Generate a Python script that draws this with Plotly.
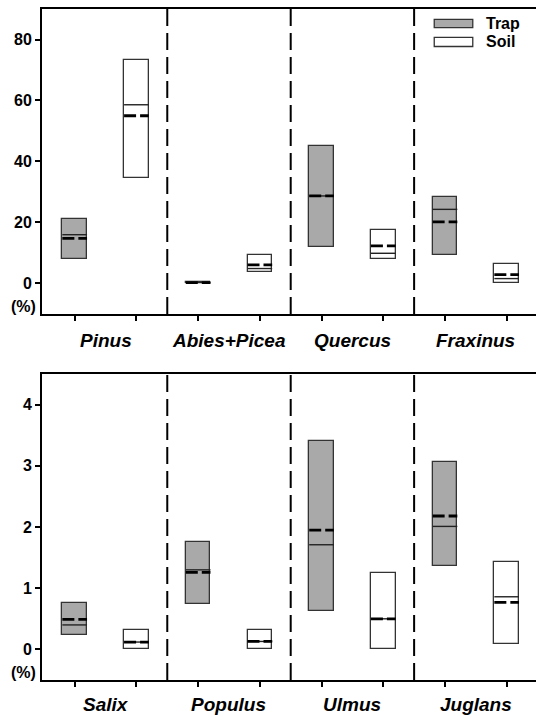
import plotly.graph_objects as go

# ---------------- data ----------------
categories_top = ["Pinus", "Abies+Picea", "Quercus", "Fraxinus"]
trap_top_q1 = [8.0, 0.1, 12.1, 9.3]
trap_top_q3 = [21.0, 0.5, 45.1, 28.5]
trap_top_median = [16.0, 0.3, 28.7, 24.3]
trap_top_mean = [14.8, 0.3, 28.7, 20.2]
soil_top_q1 = [34.5, 3.6, 8.0, 0.0]
soil_top_q3 = [73.4, 9.3, 17.6, 6.3]
soil_top_median = [58.6, 4.9, 9.9, 1.6]
soil_top_mean = [55.0, 6.1, 12.3, 2.9]

categories_bot = ["Salix", "Populus", "Ulmus", "Juglans"]
trap_bot_q1 = [0.24, 0.74, 0.62, 1.37]
trap_bot_q3 = [0.76, 1.75, 3.40, 3.06]
trap_bot_median = [0.40, 1.30, 1.71, 2.01]
trap_bot_mean = [0.49, 1.26, 1.95, 2.18]
soil_bot_q1 = [0.0, 0.0, 0.0, 0.09]
soil_bot_q3 = [0.31, 0.32, 1.25, 1.42]
soil_bot_median = [0.12, 0.13, 0.50, 0.86]
soil_bot_mean = [0.12, 0.13, 0.50, 0.77]

top_ticks = [0, 20, 40, 60, 80]
bot_ticks = [0, 1, 2, 3, 4]

# ---------------- styling ----------------
FONT = "Liberation Sans"
TRAP_FILL = "#a9a9a9"
SOIL_FILL = "#ffffff"
EDGE = "#333333"
BW = 0.40

fig = go.Figure()


def add_panel(q1t, q3t, medt, meant, q1s, q3s, meds, means, xa, ya):
    n = len(q1t)
    xt = [2 * i for i in range(n)]
    xs = [2 * i + 1 for i in range(n)]
    for xpos, q1, q3, fill in [(xt, q1t, q3t, TRAP_FILL), (xs, q1s, q3s, SOIL_FILL)]:
        fig.add_trace(go.Bar(
            x=xpos, y=[b - a for a, b in zip(q1, q3)], base=q1, width=BW,
            marker=dict(color=fill, line=dict(color=EDGE, width=1.3)),
            xaxis=xa, yaxis=ya, showlegend=False, hoverinfo="skip"))
    for xpos, med, mean in [(xt, medt, meant), (xs, meds, means)]:
        mx, my, ax_, ay_ = [], [], [], []
        for p, m, mu in zip(xpos, med, mean):
            mx += [p - BW / 2, p + BW / 2, None]
            my += [m, m, None]
            ax_ += [p - BW / 2, p + BW / 2, None]
            ay_ += [mu, mu, None]
        fig.add_trace(go.Scatter(x=mx, y=my, mode="lines",
                                 line=dict(color="#222222", width=1.4),
                                 xaxis=xa, yaxis=ya, showlegend=False, hoverinfo="skip"))
        fig.add_trace(go.Scatter(x=ax_, y=ay_, mode="lines",
                                 line=dict(color="black", width=2.8, dash="12px,4px"),
                                 xaxis=xa, yaxis=ya, showlegend=False, hoverinfo="skip"))


add_panel(trap_top_q1, trap_top_q3, trap_top_median, trap_top_mean,
          soil_top_q1, soil_top_q3, soil_top_median, soil_top_mean, "x", "y")
add_panel(trap_bot_q1, trap_bot_q3, trap_bot_median, trap_bot_mean,
          soil_bot_q1, soil_bot_q3, soil_bot_median, soil_bot_mean, "x2", "y2")

xaxis_common = dict(range=[-0.53, 7.475], tickvals=list(range(8)), ticktext=[""] * 8,
                     ticks="outside", ticklen=5, tickwidth=1.5, tickcolor="black",
                     showline=True, linecolor="black", linewidth=2, mirror=True,
                     showgrid=False, zeroline=False, fixedrange=True)
yaxis_common = dict(ticks="outside", ticklen=5, tickwidth=1.5, tickcolor="black",
                     showline=True, linecolor="black", linewidth=2,
                     showgrid=False, zeroline=False,
                     tickfont=dict(family=FONT, size=16, color="black", weight="bold"))

fig.update_layout(
    width=536, height=716,
    margin=dict(l=42, r=0, t=9, b=36),
    plot_bgcolor="white", paper_bgcolor="white",
    bargap=0, barmode="overlay",
    xaxis=dict(**xaxis_common, domain=[0, 1], anchor="y"),
    xaxis2=dict(**xaxis_common, domain=[0, 1], anchor="y2"),
    yaxis=dict(**yaxis_common, domain=[0.5455, 1.0], range=[-10, 90],
               tickvals=top_ticks, anchor="x"),
    yaxis2=dict(**yaxis_common, domain=[0.0, 0.456], range=[-0.5, 4.5],
                tickvals=bot_ticks, anchor="x2"),
)

# vertical dashed separators
for xr, yr in [("x", "y"), ("x2", "y2")]:
    for sx in [1.5, 3.5, 5.5]:
        fig.add_shape(type="line", x0=sx, x1=sx, y0=0, y1=1, xref=xr, yref=yr + " domain",
                      line=dict(color="black", width=2, dash="17px,7px"))

# category labels
for xr, yr, cats, ys in [("x", "y", categories_top, -27), ("x2", "y2", categories_bot, -24)]:
    for i, c in enumerate(cats):
        fig.add_annotation(x=2 * i + 0.5, y=0, xref=xr, yref=yr + " domain",
                           text="<b><i>%s</i></b>" % c, showarrow=False,
                           yanchor="middle", yshift=ys,
                           font=dict(family=FONT, size=19, color="black"))

# (%) labels
fig.add_annotation(x=0, y=-7.7, xref="x domain", yref="y", text="<b>(%)</b>",
                   showarrow=False, xanchor="right", xshift=-4,
                   font=dict(family=FONT, size=16, color="black"))
fig.add_annotation(x=0, y=-0.38, xref="x2 domain", yref="y2", text="<b>(%)</b>",
                   showarrow=False, xanchor="right", xshift=-4,
                   font=dict(family=FONT, size=16, color="black"))

# legend
legend_items = [("Trap", TRAP_FILL, 0.966, 0.939), ("Soil", SOIL_FILL, 0.907, 0.877)]
for name, fill, yt, yb in legend_items:
    fig.add_shape(type="rect", x0=0.794, x1=0.872, y0=yb, y1=yt,
                  xref="x domain", yref="y domain",
                  fillcolor=fill, line=dict(color=EDGE, width=1.3))
    fig.add_annotation(x=0.894, y=(yt + yb) / 2, xref="x domain", yref="y domain",
                       text="<b>%s</b>" % name, showarrow=False,
                       xanchor="left", yanchor="middle",
                       font=dict(family=FONT, size=16, color="black"))

fig.write_html("out.html")
